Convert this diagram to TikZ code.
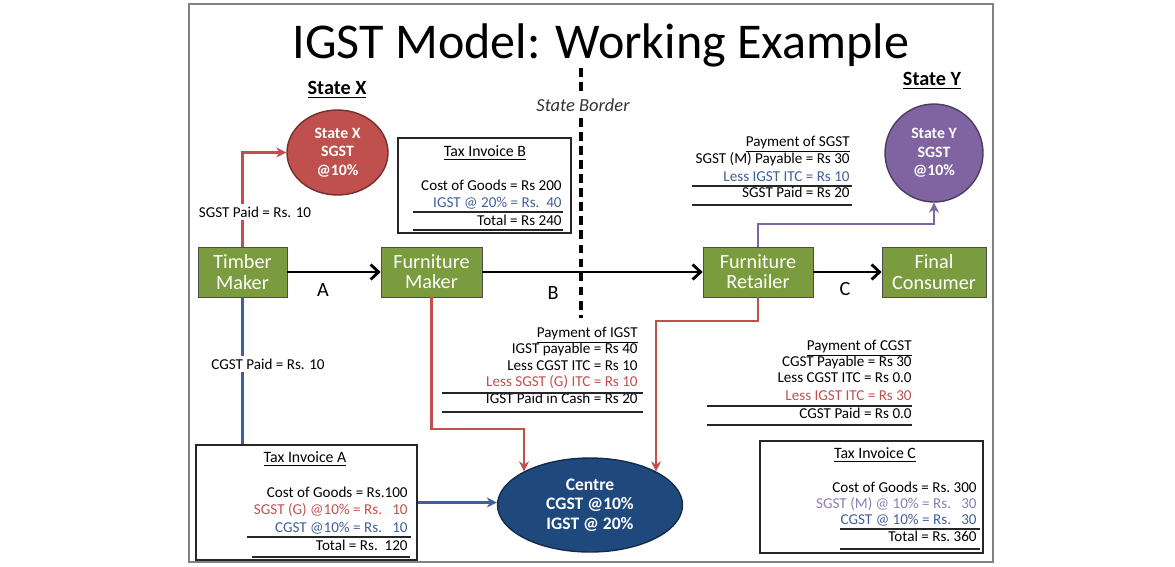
\documentclass[tikz,border=0pt]{standalone}
\usepackage{fontspec}
\setmainfont{Carlito}
\usetikzlibrary{arrows.meta,positioning,shapes.geometric}
\definecolor{moss}{RGB}{122,156,62}
\definecolor{rust}{RGB}{192,80,77}
\definecolor{plum}{RGB}{128,100,162}
\definecolor{navy}{RGB}{31,73,125}
\definecolor{steel}{RGB}{65,95,155}
\definecolor{lilac}{RGB}{140,125,180}
\definecolor{frame}{RGB}{130,130,130}
\tikzset{
  >={Straight Barb[length=1.6mm,width=3mm]},
  firm/.style={draw=black!70,fill=moss,text=white,minimum height=1cm,
    align=center,font=\fontsize{11.5}{11.5}\selectfont,inner sep=1pt},
  purse/.style={ellipse,draw=#1!60!black,thick,fill=#1,text=white,align=center,
    font=\fontsize{9}{10.5}\selectfont\bfseries,inner sep=0pt},
  invoice/.style={draw=black!85,line width=1.1pt},
  head/.style={font=\fontsize{9}{10}\selectfont},
  entry/.style={font=\fontsize{8.6}{9}\selectfont,anchor=base east,inner sep=0pt},
  sum/.style={draw=black!85,semithick},
  flow/.style={->,line width=1.6pt},
  tax/.style={draw=#1,line width=1.2pt,-{Stealth[length=2mm,width=2mm]}},
  paid/.style={draw=#1,line width=1.2pt},
  tag/.style={fill=white,font=\fontsize{8.6}{9}\selectfont,inner sep=1.5pt},
  leg/.style={font=\fontsize{11.5}{12}\selectfont},
  state/.style={font=\fontsize{11.5}{12}\selectfont\bfseries},
  borderline/.style={line width=2.3pt,dash pattern=on 5pt off 3pt},
}
\begin{document}
\begin{tikzpicture}[x=0.02cm,y=-0.02cm]
  \useasboundingbox (0,0) rectangle (1175,566);
  \draw[frame,line width=1.2pt] (189,4) rectangle (993,562);
  % headings
  \node[font=\fontsize{28.5}{30}\selectfont] (title) at (601,45) {IGST Model: Working Example};
  \node[state] (hx) at (337,90) {\underline{State X}};
  \node[state] (hy) at (932,81) {\underline{State Y}};
  \node[font=\fontsize{10.5}{12}\selectfont\itshape,text=black!80] (sb) at (583,105) {State Border};
  % tax authorities
  \node[purse=rust,minimum width=2.02cm,minimum height=1.7cm] (sx) at (337.5,152.5) {State X\\SGST\\@10\%};
  \node[purse=plum,minimum size=1.96cm] (sy) at (934,153) {State Y\\SGST\\@10\%};
  \node[purse=navy,minimum width=3.7cm,minimum height=1.88cm,
    font=\fontsize{10}{11}\selectfont\bfseries] (ctr) at (590,505) {Centre\\CGST @10\%\\IGST @ 20\%};
  % supply chain
  \node[firm,minimum width=1.78cm] (tm) at (242.5,272) {Timber\\Maker};
  \node[firm,minimum width=2.02cm] (fm) at (431.5,272) {Furniture\\Maker};
  \node[firm,minimum width=2.2cm] (fr) at (758,272) {Furniture\\Retailer};
  \node[firm,minimum width=2.08cm] (fc) at (934,272) {Final\\Consumer};
  \draw[flow] (tm) -- (fm);
  \draw[flow] (fm) -- (fr);
  \draw[flow] (fr) -- (fc);
  \draw[borderline] (581,68) -- (581,92);
  \draw[borderline] (581,118) -- (581,318);
  \node[leg] (la) at (323,290) {A};
  \node[leg] (lb) at (553,293) {B};
  \node[leg] (lc) at (845,289) {C};
  % invoices
  \node[invoice,minimum width=4.42cm,minimum height=2.3cm] (tia) at (306.5,502.5) {};
  \node[invoice,minimum width=3.46cm,minimum height=1.9cm] (tib) at (484.5,185.5) {};
  \node[invoice,minimum width=4.46cm,minimum height=2.24cm] (tic) at (871.5,497) {};
  % tax flows
  \draw[tax=rust] (tm.north) |- (sx.west);
  \draw[tax=plum] (fr.north) -- ++(0,-23) -| (sy.south);
  \draw[paid=steel] (tm.south) -- (tm.south |- tia.north);
  \draw[tax=steel] (tia.east) -- (tia.east -| ctr.west);
  \draw[tax=rust] (fm.south) -- ++(0,132) -| (ctr.153);
  \draw[tax=rust] (fr.south) -- ++(0,24) -| (ctr.27);
  \node[tag] (sgstpaid) at (255,212) {SGST Paid = Rs. 10};
  \node[tag] (cgstpaid) at (268,364) {CGST Paid = Rs. 10};
  % Tax Invoice A
  \node[head] (tia-t) at (305,459) {\underline{Tax Invoice A}};
  \foreach \t/\c/\y [count=\i] in {Cost of Goods = Rs.100/black/497,
      SGST (G) @10\% = Rs.~~~10/rust/514,CGST @10\% = Rs.~~~10/steel/532,
      Total = Rs.~~120/black/550}
    \node[entry,text=\c] (ia\i) at (408,\y) {\t};
  \draw[sum] (247,537) -- (411,537);
  \draw[sum] (252,557) -- (410,557);
  % Tax Invoice B
  \node[head] (tib-t) at (485,153) {\underline{Tax Invoice B}};
  \foreach \t/\c/\y [count=\i] in {Cost of Goods = Rs 200/black/190,
      IGST @ 20\% = Rs.~~40/steel/207,Total = Rs 240/black/225}
    \node[entry,text=\c] (ib\i) at (562,\y) {\t};
  \draw[sum] (413,212) -- (563,212);
  \draw[sum] (413,230) -- (563,230);
  % Tax Invoice C
  \node[head] (tic-t) at (875,455) {\underline{Tax Invoice C}};
  \foreach \t/\c/\y [count=\i] in {Cost of Goods = Rs.~300/black/492,
      SGST (M) @ 10\% = Rs.~~~30/lilac/508,CGST @ 10\% = Rs.~~~30/steel/524,
      Total = Rs.~360/black/541}
    \node[entry,text=\c] (ic\i) at (977,\y) {\t};
  \draw[sum] (840,529) -- (980,529);
  \draw[sum] (840,549) -- (980,549);
  % payment of SGST
  \foreach \t/\c/\y [count=\i] in {\underline{Payment of SGST}/black/146,
      SGST (M) Payable = Rs 30/black/163,Less IGST ITC = Rs 10/steel/181,
      SGST Paid = Rs 20/black/197}
    \node[entry,text=\c] (ps\i) at (850,\y) {\t};
  \draw[sum] (692,186) -- (852,186);
  \draw[sum] (692,205) -- (852,205);
  % payment of IGST
  \foreach \t/\c/\y [count=\i] in {\underline{Payment of IGST}/black/337,
      IGST payable = Rs 40/black/353,Less CGST ITC = Rs 10/black/370,
      Less SGST (G) ITC = Rs 10/rust/386,IGST Paid in Cash = Rs 20/black/403}
    \node[entry,text=\c] (pi\i) at (638,\y) {\t};
  \draw[sum] (442,393) -- (643,393);
  \draw[sum] (442,412) -- (643,412);
  % payment of CGST
  \foreach \t/\c/\y [count=\i] in {\underline{Payment of CGST}/black/350,
      CGST Payable = Rs 30/black/366,Less CGST ITC = Rs 0.0/black/382,
      Less IGST ITC = Rs 30/rust/400,CGST Paid = Rs 0.0/black/418}
    \node[entry,text=\c] (pc\i) at (912,\y) {\t};
  \draw[sum] (707,406) -- (912,406);
  \draw[sum] (707,425) -- (912,425);
\end{tikzpicture}
\end{document}
